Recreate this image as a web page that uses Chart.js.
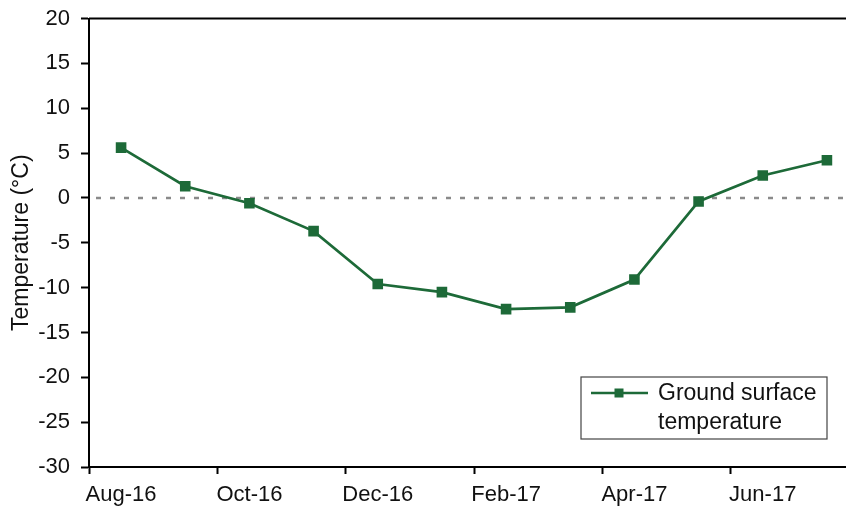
<!DOCTYPE html>
<html>
<head>
<meta charset="utf-8">
<title>Ground surface temperature</title>
<script src="https://cdn.jsdelivr.net/npm/chart.js@4.4.1/dist/chart.umd.min.js"></script>
<style>
  html, body { margin: 0; padding: 0; background: #fff; overflow: hidden; }
  #wrap { position: relative; width: 870px; height: 506px; }
</style>
</head>
<body>
<div id="wrap"><canvas id="chart"></canvas></div>
<script>
// monthly means, Aug 2016 - Jul 2017
const months = ['Aug-16', 'Sep-16', 'Oct-16', 'Nov-16', 'Dec-16', 'Jan-17',
                'Feb-17', 'Mar-17', 'Apr-17', 'May-17', 'Jun-17', 'Jul-17'];
const temperature = [5.6, 1.3, -0.6, -3.7, -9.6, -10.5, -12.4, -12.2, -9.1, -0.4, 2.5, 4.2];
const yMin = -30;
const yMax = 20;
const yStep = 5;
const seriesLabel = ['Ground surface', 'temperature'];

const GREEN = '#1d6a38';
const FONT = "'Liberation Sans', Arial, sans-serif";

Chart.defaults.font.family = FONT;
Chart.defaults.color = '#111';

// top frame line + dashed zero line
const framePlugin = {
  id: 'frame',
  beforeDatasetsDraw(chart) {
    const { ctx, chartArea } = chart;
    const y0 = chart.scales.y.getPixelForValue(0);
    ctx.save();
    ctx.strokeStyle = '#8a8a8a';
    ctx.lineWidth = 2.5;
    ctx.setLineDash([5, 9]);
    ctx.beginPath();
    ctx.moveTo(chartArea.left + 7, y0);
    ctx.lineTo(chartArea.right, y0);
    ctx.stroke();
    ctx.setLineDash([]);
    ctx.strokeStyle = '#000';
    ctx.lineWidth = 2;
    ctx.beginPath();
    ctx.moveTo(chartArea.left, chartArea.top);
    ctx.lineTo(chartArea.right, chartArea.top);
    ctx.stroke();
    ctx.restore();
  }
};

// boxed legend in the lower right, label on two lines
const boxLegend = {
  id: 'boxLegend',
  afterDatasetsDraw(chart) {
    const { ctx, chartArea } = chart;
    const ds = chart.data.datasets[0];
    const w = 246, h = 62;
    const x = chartArea.right - 32 - w;
    const y = chartArea.bottom - 28 - h;
    ctx.save();
    ctx.fillStyle = '#fff';
    ctx.fillRect(x, y, w, h);
    ctx.strokeStyle = '#444';
    ctx.lineWidth = 1.2;
    ctx.strokeRect(x, y, w, h);

    const ly = y + 16;
    ctx.strokeStyle = ds.borderColor;
    ctx.lineWidth = ds.borderWidth;
    ctx.beginPath();
    ctx.moveTo(x + 10, ly);
    ctx.lineTo(x + 67, ly);
    ctx.stroke();
    ctx.fillStyle = ds.pointBackgroundColor;
    ctx.fillRect(x + 38 - 4.5, ly - 4.5, 9, 9);

    ctx.fillStyle = '#111';
    ctx.font = '23px ' + FONT;
    ctx.textBaseline = 'middle';
    ctx.fillText(seriesLabel[0], x + 77, ly + 1);
    ctx.fillText(seriesLabel[1], x + 77, ly + 30);
    ctx.restore();
  }
};

new Chart(document.getElementById('chart'), {
  type: 'line',
  data: {
    labels: months,
    datasets: [{
      label: seriesLabel.join(' '),
      data: temperature,
      borderColor: GREEN,
      borderWidth: 2.7,
      pointStyle: 'rect',
      pointRadius: 7.5,
      pointBackgroundColor: GREEN,
      pointBorderColor: GREEN,
      pointBorderWidth: 0,
      tension: 0
    }]
  },
  options: {
    responsive: true,
    maintainAspectRatio: false,
    animation: false,
    layout: { padding: { top: 18.5, right: 11, left: 0, bottom: 0 } },
    plugins: {
      legend: { display: false },
      tooltip: { enabled: false }
    },
    scales: {
      x: {
        offset: true,
        afterFit(scale) { scale.height = 39; },
        grid: {
          offset: true,
          drawOnChartArea: false,
          tickLength: 7,
          tickWidth: 2,
          tickColor: (c) => (c.index % 2 === 0 ? '#000' : 'rgba(0,0,0,0)')
        },
        border: { color: '#000', width: 2 },
        ticks: {
          autoSkip: false,
          maxRotation: 0,
          padding: 8,
          font: { size: 22 },
          callback: (v, i) => (i % 2 === 0 ? months[i] : '')
        }
      },
      y: {
        min: yMin,
        max: yMax,
        afterFit(scale) {
          scale.width = 89;
          scale.paddingTop = 0;
          scale.paddingBottom = 0;
        },
        grid: {
          drawOnChartArea: false,
          tickLength: 8,
          tickWidth: 2,
          tickColor: '#000'
        },
        border: { color: '#000', width: 2 },
        ticks: {
          stepSize: yStep,
          padding: 11,
          font: { size: 22 }
        },
        title: {
          display: true,
          text: 'Temperature (°C)',
          font: { size: 23 },
          padding: { top: 8, bottom: 0 }
        }
      }
    }
  },
  plugins: [framePlugin, boxLegend]
});
</script>
</body>
</html>
